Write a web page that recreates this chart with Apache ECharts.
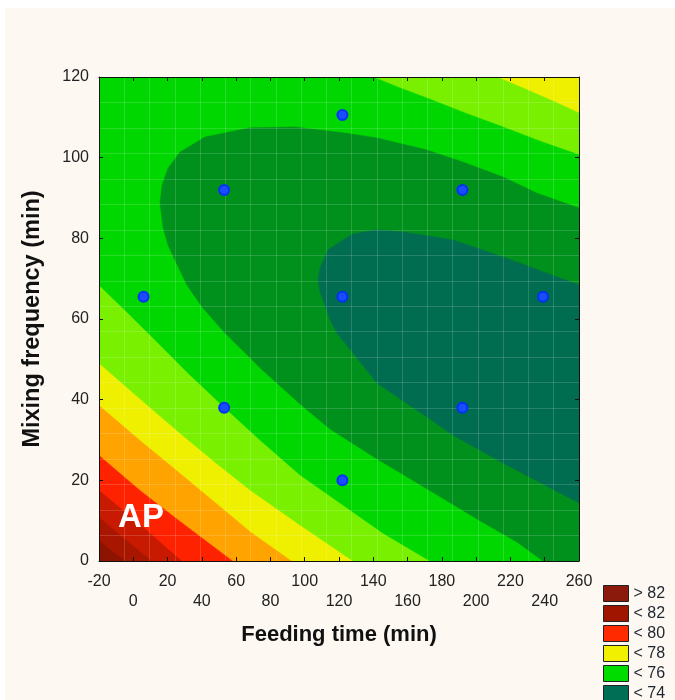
<!DOCTYPE html>
<html>
<head>
<meta charset="utf-8">
<script src="https://cdn.jsdelivr.net/npm/echarts@6/dist/echarts.min.js"></script>
<style>
  body { margin: 0; background: #fff; }
  #main { position: absolute; left: 5px; top: 8px; width: 670px; height: 692px; background: #fdf9f2; }
</style>
</head>
<body>
<div id="main"></div>
<script>
// design points (feeding time, mixing frequency)
let pointX = [6, 53, 53, 122, 122, 122, 192, 192, 239];
let pointY = [65.5, 92, 38, 110.6, 65.5, 20, 92, 38, 65.5];

// contour boundaries, [feeding time, mixing frequency]
// lower-left bands: from the left edge down to the bottom edge
let line82 = [[-20, 5.2], [-12.4, 2.5], [-4.3, 0]];
let line81 = [[-20, 10.9], [-4.8, 5.45], [10.9, 0]];
let line80 = [[-20, 17.6], [3.9, 9.2], [28.4, 0]];
let line79 = [[-20, 26.3], [3.9, 17.6], [27.3, 9.9], [58.2, 0]];
let line78 = [[-20, 38.7], [3.9, 30], [27.3, 21.8], [47.7, 14.6], [68.1, 7.4], [92.6, 0]];
let line77 = [[-20, 49.1], [3.9, 40.2], [27.3, 31.7], [47.7, 24.5], [68.1, 17.6], [97.3, 8.9], [128.2, 0]];
let line77top = [[212.2, 120], [231.4, 116.5], [246, 113.8], [260, 111.1]];
let line76 = [[-20, 68.4], [-4.8, 62.2], [12.7, 54.8], [31.9, 46.6], [52.3, 38.4], [73.9, 30], [97.3, 21.3], [114.8, 16.1], [145.7, 6.9], [173.1, 0]];
let line76top = [[139.8, 120], [155.6, 117.3], [173.1, 114.5], [193.5, 111.1], [215.7, 107.6], [237.3, 104.1], [260, 100.7]];
// closed-ish bands, bottom/right edge round to the right edge
let line75 = [[239, 0], [223.8, 4.7], [200.5, 10.4], [171.3, 17.9], [142.2, 25.3], [114.8, 32.7], [97.3, 38.9],
  [73.9, 47.9], [53.5, 56.5], [40.1, 63], [31.3, 68.4], [24.9, 74.1], [20.3, 78.3], [17.3, 82.8], [15.6, 88.8],
  [16.8, 93.2], [20.3, 97.4], [27.3, 101.4], [41.8, 105.1], [68.1, 107.4], [94.3, 107.6], [123.5, 106.1],
  [142.2, 104.9], [171.3, 101.9], [192.3, 98.9], [215.7, 95.2], [235.5, 91.2], [260, 87.5]];
let line74 = [[260, 14.4], [215.7, 24.3], [186.5, 31.2], [171.3, 35.7], [142.2, 44.1], [128.2, 51.6], [118.8, 56.5],
  [114.8, 59.8], [111.8, 63.5], [108.9, 66.7], [107.8, 69.7], [108.9, 72.6], [113.6, 77.1], [122.3, 79.6],
  [128.2, 81.1], [142.2, 82.1], [157.3, 81.6], [186.5, 79.6], [215.7, 75.4], [260, 68.4]];

let bandColors = ['#8c1400', '#a81600', '#c81a00', '#ff2200', '#ffa300', '#eef000',
  '#78f000', '#00d600', '#00901c', '#006c50'];

let legendLabels = ['> 82', '< 82', '< 80', '< 78', '< 76', '< 74'];
let legendColors = ['#8b1a0c', '#a01500', '#ff2a00', '#f0f000', '#00dc00', '#006e54'];

let xTicks = [-20, 260, 20];
let yTicks = [0, 120, 20];

const TL = [-20, 120], TR = [260, 120], BR = [260, 0];
let polys = [
  line82.concat([BR, TR, TL]),
  line81.concat([BR, TR, TL]),
  line80.concat([BR, TR, TL]),
  line79.concat([BR, TR, TL]),
  line78.concat([BR, TR, TL]),
  line77.concat([BR], line77top.slice().reverse(), [TL]),
  line76.concat([BR], line76top.slice().reverse(), [TL]),
  line75.concat([BR]),
  line74
];

const font = 'Liberation Sans, Arial, sans-serif';
let myChart = echarts.init(document.getElementById('main'));

let frameAxis = {
  gridIndex: 0,
  axisLine: {show: true, onZero: false, lineStyle: {color: '#111', width: 1}},
  axisTick: {show: true, inside: true, length: 4, lineStyle: {color: '#111'}},
  axisLabel: {show: false},
  splitLine: {show: false},
  z: 6
};
let meshAxis = {
  type: 'value', gridIndex: 0, min: 0, max: 19, interval: 1,
  axisLine: {show: false, onZero: false}, axisTick: {show: false}, axisLabel: {show: false},
  splitLine: {show: true, lineStyle: {color: 'rgba(255,255,255,0.16)', width: 1}},
  z: 3
};

let legendItems = [];
legendLabels.forEach(function (lab, i) {
  legendItems.push({
    type: 'rect', shape: {x: 0, y: i * 20, width: 25, height: 16},
    style: {fill: legendColors[i], stroke: '#222', lineWidth: 1}
  });
  legendItems.push({
    type: 'text', x: 30, y: i * 20 + 8,
    style: {text: lab, fill: '#1e2530', font: '16px ' + font, verticalAlign: 'middle'}
  });
});

let option = {
  animation: false,
  textStyle: {fontFamily: font},
  grid: {left: 94, top: 69, width: 480, height: 484, show: true, backgroundColor: bandColors[0], borderWidth: 0},
  xAxis: [
    Object.assign({}, frameAxis, {
      type: 'value', position: 'bottom', min: xTicks[0], max: xTicks[1], interval: xTicks[2],
      name: 'Feeding time (min)', nameLocation: 'middle', nameGap: 63,
      nameTextStyle: {fontSize: 22, fontWeight: 'bold', color: '#111', fontFamily: font},
      axisLabel: {
        show: true, fontSize: 16, color: '#222', margin: 11, lineHeight: 20,
        formatter: function (v) {
          let i = Math.round((v - xTicks[0]) / xTicks[2]);
          return i % 2 === 0 ? String(v) : '\n' + v;
        }
      }
    }),
    Object.assign({}, frameAxis, {type: 'value', position: 'top', min: xTicks[0], max: xTicks[1], interval: xTicks[2]}),
    meshAxis
  ],
  yAxis: [
    Object.assign({}, frameAxis, {
      type: 'value', position: 'left', min: yTicks[0], max: yTicks[1], interval: yTicks[2],
      name: 'Mixing frequency (min)', nameLocation: 'middle', nameGap: 54,
      nameTextStyle: {fontSize: 23.5, fontWeight: 'bold', color: '#111', fontFamily: font},
      axisLabel: {show: true, fontSize: 16, color: '#222', margin: 10}
    }),
    Object.assign({}, frameAxis, {type: 'value', position: 'right', min: yTicks[0], max: yTicks[1], interval: yTicks[2]}),
    meshAxis
  ],
  graphic: [{type: 'group', left: 598, top: 577, children: legendItems}],
  series: [
    {
      type: 'custom',
      coordinateSystem: 'cartesian2d',
      clip: true,
      z: 2,
      data: polys.map(function (p, i) { return [i, 0]; }),
      renderItem: function (params, api) {
        let pts = polys[params.dataIndex].map(function (p) { return api.coord(p); });
        return {
          type: 'polygon',
          shape: {points: pts},
          style: {fill: bandColors[params.dataIndex + 1], stroke: bandColors[params.dataIndex + 1], lineWidth: 0.5}
        };
      }
    },
    {
      type: 'scatter',
      z: 5,
      symbol: 'circle',
      symbolSize: 10,
      itemStyle: {color: '#1a4cff', borderColor: '#0032f0', borderWidth: 2, opacity: 1},
      data: pointX.map(function (x, i) { return [x, pointY[i]]; })
    },
    {
      type: 'scatter',
      z: 5,
      symbolSize: 0,
      itemStyle: {opacity: 1},
      data: [[4.5, 10.7]],
      label: {
        show: true, position: 'inside', formatter: 'AP',
        color: '#ffffff', fontSize: 33, fontWeight: 'bold', fontFamily: font
      }
    }
  ]
};
myChart.setOption(option);
</script>
</body>
</html>
